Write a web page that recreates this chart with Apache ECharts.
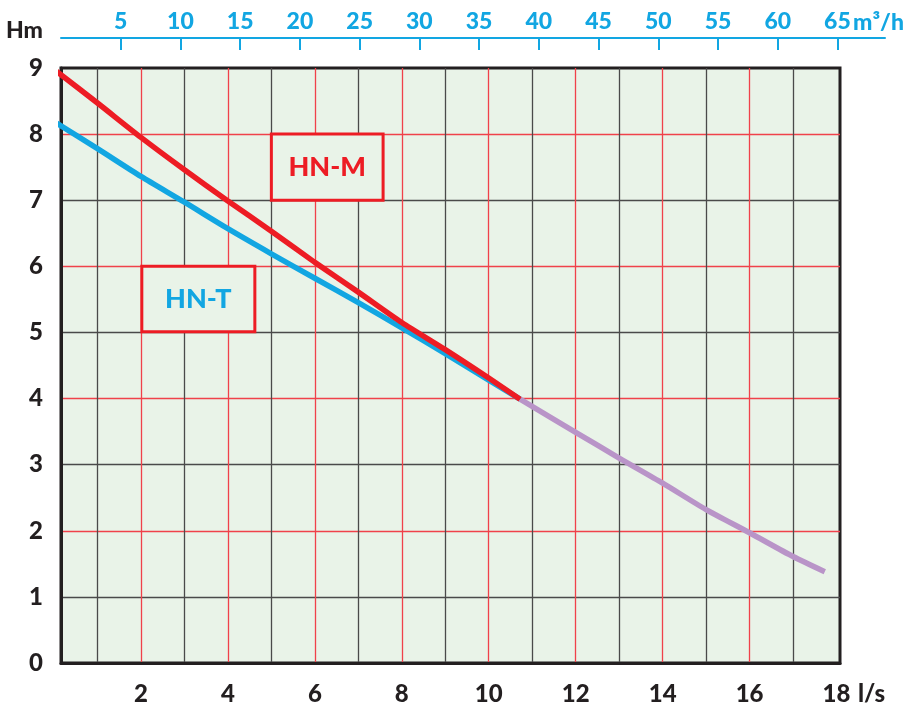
<!DOCTYPE html>
<html><head><meta charset="utf-8">
<script src="https://cdn.jsdelivr.net/npm/echarts@6/dist/echarts.min.js"></script>
<style>html,body{margin:0;padding:0;background:#fff}#c{width:908px;height:709px}</style>
</head><body><div id="c"></div>
<script>
// ---- data ----
const hnmFlow = [0, 1, 2, 3, 4, 5, 6, 7, 8, 9, 10, 10.72];
const hnmHead = [8.98, 8.47, 7.95, 7.46, 6.99, 6.53, 6.06, 5.61, 5.15, 4.74, 4.31, 3.99];
const hntFlow = [0, 1, 2, 3, 4, 5, 6, 7, 8, 9, 10, 10.72];
const hntHead = [8.19, 7.78, 7.36, 6.97, 6.57, 6.19, 5.82, 5.45, 5.07, 4.68, 4.28, 3.99];
const commonFlow = [10.72, 12, 13, 14, 15, 16, 17, 17.73];
const commonHead = [3.99, 3.49, 3.10, 2.72, 2.32, 1.97, 1.61, 1.38];
const lsGrid = [1, 2, 3, 4, 5, 6, 7, 8, 9, 10, 11, 12, 13, 14, 15, 16, 17];
const lsTicks = [2, 4, 6, 8, 10, 12, 14, 16, 18];
const m3hTicks = [5, 10, 15, 20, 25, 30, 35, 40, 45, 50, 55, 60, 65];
const hmTicks = [0, 1, 2, 3, 4, 5, 6, 7, 8, 9];

const zip = (a, b) => a.map((v, i) => [v, b[i]]);
const FONT = 'Lato';
const RED = '#ed1c24', BLUE = '#12a6e2', PURPLE = '#b994c8', INK = '#231f20', BG = '#e9f3e8';
const GRID_RED = '#f0414a', GRID_GRAY = '#4a4a4a';

const chart = echarts.init(document.getElementById('c'), null, {renderer: 'canvas'});

chart.setOption({
  animation: false,
  grid: [
    {left: 61, right: 68, top: 68, bottom: 46, show: true, backgroundColor: BG,
     borderColor: INK, borderWidth: 3, containLabel: false},
    {left: 61, right: 23, top: 37, height: 1, show: false, containLabel: false}
  ],
  xAxis: [
    {type: 'value', gridIndex: 0, min: 0.161, max: 18.08,
     axisLine: {show: true, lineStyle: {color: INK, width: 3}},
     axisTick: {show: false, customValues: lsGrid},
     axisLabel: {customValues: lsTicks, color: INK, fontFamily: FONT, fontWeight: 900, fontSize: 24, margin: 19},
     splitLine: {show: true, showMinLine: true, showMaxLine: true,
       lineStyle: {color: [GRID_GRAY, GRID_RED], width: 1.3}},
     name: 'l/s', nameLocation: 'end', nameGap: 18, nameMoveOverlap: false,
     nameTextStyle: {color: INK, fontFamily: FONT, fontWeight: 900, fontSize: 24, verticalAlign: 'top', padding: [19, 0, 0, 0]}
    },
    {type: 'value', gridIndex: 1, position: 'top', min: 0, max: 68.98,
     axisLine: {show: true, lineStyle: {color: BLUE, width: 2}},
     axisTick: {show: true, inside: true, length: 12, customValues: m3hTicks, lineStyle: {color: BLUE, width: 2}},
     axisLabel: {customValues: m3hTicks, color: BLUE, fontFamily: FONT, fontWeight: 900, fontSize: 23, margin: 4},
     splitLine: {show: false},
     name: 'm³/h', nameLocation: 'end', nameGap: -32, nameMoveOverlap: false,
     nameTextStyle: {color: BLUE, fontFamily: FONT, fontWeight: 900, fontSize: 23, verticalAlign: 'bottom', padding: [0, 0, 4, 0]}
    }
  ],
  yAxis: [
    {type: 'value', gridIndex: 0, min: 0, max: 9, interval: 1,
     axisLine: {show: true, lineStyle: {color: INK, width: 3}},
     axisTick: {show: false},
     axisLabel: {customValues: hmTicks, color: INK, fontFamily: FONT, fontWeight: 900, fontSize: 24, margin: 18},
     splitLine: {show: true, showMinLine: false, showMaxLine: false,
       lineStyle: {color: [GRID_GRAY, GRID_RED], width: 1.3}},
     name: 'Hm', nameLocation: 'end', nameGap: 26, nameMoveOverlap: false,
     nameTextStyle: {color: INK, fontFamily: FONT, fontWeight: 900, fontSize: 23, align: 'right', padding: [0, 18, 0, 0]}
    },
    {type: 'value', gridIndex: 1, show: false, min: 0, max: 1}
  ],
  series: [
    {name: 'HN-T', type: 'line', xAxisIndex: 0, yAxisIndex: 0, data: zip(hntFlow, hntHead),
     showSymbol: false, smooth: 0.25, clip: true, z: 3, lineStyle: {color: BLUE, width: 5.5}},
    {name: 'HN-M', type: 'line', xAxisIndex: 0, yAxisIndex: 0, data: zip(hnmFlow, hnmHead),
     showSymbol: false, smooth: 0.25, clip: true, z: 4, lineStyle: {color: RED, width: 5.5},
     markArea: {silent: true,
       data: [
         [{xAxis: 5.0, yAxis: 8, itemStyle: {color: BG, borderColor: RED, borderWidth: 3},
           label: {show: true, position: 'inside', formatter: 'HN-M', color: RED, fontFamily: FONT, fontWeight: 900, fontSize: 27}},
          {xAxis: 7.57, yAxis: 7}],
         [{xAxis: 2.02, yAxis: 6, itemStyle: {color: BG, borderColor: RED, borderWidth: 3},
           label: {show: true, position: 'inside', formatter: 'HN-T', color: BLUE, fontFamily: FONT, fontWeight: 900, fontSize: 27}},
          {xAxis: 4.62, yAxis: 5.01}]
       ]}
    },
    {name: 'common', type: 'line', xAxisIndex: 0, yAxisIndex: 0, data: zip(commonFlow, commonHead),
     showSymbol: false, smooth: 0.25, clip: true, z: 3, lineStyle: {color: PURPLE, width: 5.5}}
  ]
});
</script></body></html>
